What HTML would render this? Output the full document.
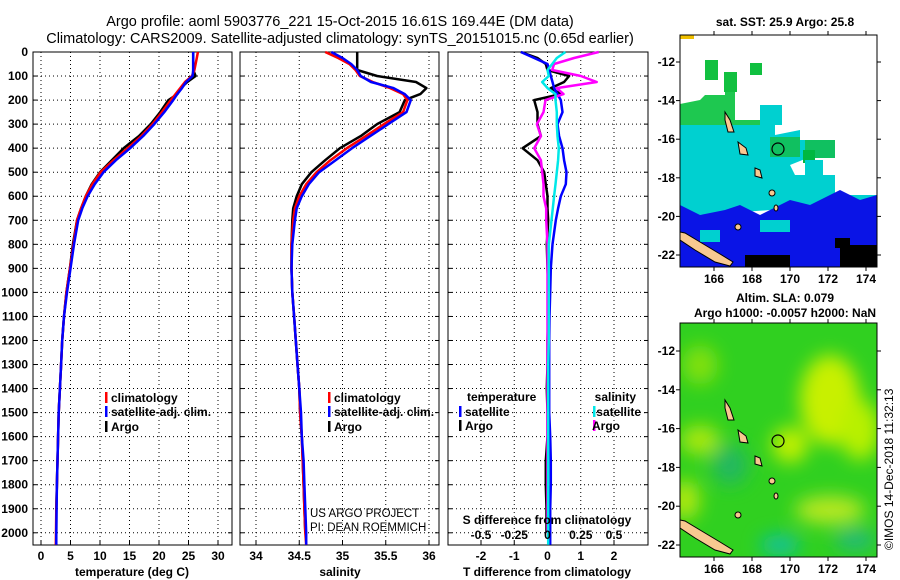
<!DOCTYPE html>
<html><head><meta charset="utf-8"><style>
html,body{margin:0;padding:0;background:#fff;}
svg{display:block;font-family:"Liberation Sans",sans-serif;}
.tk{font-size:12px;font-weight:bold;}
.lg{font-size:12px;font-weight:bold;}
</style></head><body>
<svg id="fig" width="900" height="580" viewBox="0 0 900 580">
<text x="340" y="26" text-anchor="middle" font-size="14.5">Argo profile: aoml 5903776_221 15-Oct-2015 16.61S 169.44E (DM data)</text>
<text x="340" y="43" text-anchor="middle" font-size="14.5">Climatology: CARS2009. Satellite-adjusted climatology: synTS_20151015.nc (0.65d earlier)</text>
<g id="panels"></g>
<g id="maps">
 <text x="785" y="26" text-anchor="middle" class="tk">sat. SST: 25.9 Argo: 25.8</text>
 <text x="785" y="302" text-anchor="middle" class="tk">Altim. SLA: 0.079</text>
 <text x="785" y="317" text-anchor="middle" class="tk">Argo h1000: -0.0057 h2000: NaN</text>
 <defs>
  <clipPath id="c1"><rect x="680" y="35" width="197" height="232"/></clipPath>
  <clipPath id="c2"><rect x="680" y="323" width="197" height="234"/></clipPath>
  <filter id="bl" x="-50%" y="-50%" width="200%" height="200%"><feGaussianBlur stdDeviation="9"/></filter>
 </defs>
 <g clip-path="url(#c1)">
  <rect x="680" y="35" width="197" height="232" fill="#fff"/>
  <polygon points="680,104 700,100 705,95 725,95 725,85 735,85 735,120 760,120 760,110 770,110 775,135 680,135" fill="#1ec850"/>
  <rect x="705" y="60" width="13" height="20" fill="#12c040"/>
  <rect x="750" y="63" width="12" height="12" fill="#10c040"/>
  <rect x="724" y="72" width="13" height="20" fill="#12c040"/>
  <polygon points="680,125 775,125 775,135 800,130 800,140 815,140 815,155 790,165 795,175 835,175 835,195 877,195 877,215 860,215 860,210 770,210 700,215 680,215" fill="#00d0d0"/>
  <rect x="760" y="105" width="22" height="20" fill="#00d0d0"/>
  <rect x="770" y="137" width="30" height="20" fill="#10c060"/>
  <rect x="805" y="140" width="30" height="18" fill="#10c060"/>
  <rect x="803" y="150" width="12" height="13" fill="#00b840"/>
  <rect x="805" y="160" width="18" height="15" fill="#00d0d0"/>
  <polygon points="680,205 700,215 725,210 740,205 760,215 790,200 810,205 840,190 860,200 877,195 877,267 680,267" fill="#0a14e6"/>
  <rect x="700" y="230" width="20" height="12" fill="#00d0d0"/>
  <rect x="760" y="220" width="30" height="12" fill="#00d0d0"/>
  <rect x="840" y="245" width="37" height="22" fill="#000"/>
  <rect x="835" y="238" width="15" height="10" fill="#000"/>
  <rect x="745" y="255" width="45" height="12" fill="#000"/>
  <rect x="680" y="35" width="14" height="4" fill="#f0c000"/>
  <polygon points="680,232 685,233 700,242 720,254 733,262 730,266 715,262 695,250 680,240" fill="#f8c890" stroke="#000" stroke-width="1"/>
  <polygon points="725,112 730,120 734,132 728,132 725,120" fill="#f8c890" stroke="#000" stroke-width="1"/>
  <polygon points="738,142 746,148 748,155 740,154" fill="#f8c890" stroke="#000" stroke-width="1"/>
  <polygon points="755,168 760,170 762,178 755,176" fill="#f8c890" stroke="#000" stroke-width="1"/>
  <ellipse cx="772" cy="193" rx="3" ry="3" fill="#f8c890" stroke="#000"/>
  <ellipse cx="776" cy="208" rx="2" ry="3" fill="#f8c890" stroke="#000"/>
  <ellipse cx="738" cy="227" rx="3" ry="3" fill="#f8c890" stroke="#000"/>
  <circle cx="778" cy="149" r="6" fill="none" stroke="#000" stroke-width="1.2"/>
 </g>
 <rect x="680" y="35" width="197" height="232" fill="none" stroke="#000"/>
 <g clip-path="url(#c2)">
  <rect x="680" y="323" width="197" height="234" fill="#30d020"/>
  <g filter="url(#bl)">
   <ellipse cx="830" cy="400" rx="30" ry="45" fill="#c8f000"/>
   <ellipse cx="860" cy="430" rx="20" ry="30" fill="#b8f000"/>
   <ellipse cx="700" cy="440" rx="20" ry="15" fill="#a8e810"/>
   <ellipse cx="790" cy="445" rx="18" ry="18" fill="#c0f000"/>
   <ellipse cx="830" cy="510" rx="35" ry="14" fill="#b8e820"/>
   <ellipse cx="700" cy="365" rx="18" ry="20" fill="#80e010"/>
   <ellipse cx="685" cy="500" rx="15" ry="20" fill="#b0e810"/>
   <ellipse cx="730" cy="465" rx="18" ry="20" fill="#20b860"/>
   <ellipse cx="780" cy="545" rx="20" ry="10" fill="#10c0a0"/>
   <ellipse cx="855" cy="540" rx="20" ry="10" fill="#20b880"/>
  </g>
  <polygon points="680,520 685,521 700,530 720,542 733,550 730,554 715,550 695,538 680,528" fill="#f8c890" stroke="#000" stroke-width="1"/>
  <polygon points="725,400 730,408 734,420 728,420 725,408" fill="#f8c890" stroke="#000" stroke-width="1"/>
  <polygon points="738,430 746,436 748,443 740,442" fill="#f8c890" stroke="#000" stroke-width="1"/>
  <polygon points="755,456 760,458 762,466 755,464" fill="#f8c890" stroke="#000" stroke-width="1"/>
  <ellipse cx="772" cy="481" rx="3" ry="3" fill="#f8c890" stroke="#000"/>
  <ellipse cx="776" cy="496" rx="2" ry="3" fill="#f8c890" stroke="#000"/>
  <ellipse cx="738" cy="515" rx="3" ry="3" fill="#f8c890" stroke="#000"/>
  <circle cx="778" cy="441" r="6" fill="none" stroke="#000" stroke-width="1.2"/>
 </g>
 <rect x="680" y="323" width="197" height="234" fill="none" stroke="#000"/>
 <g id="mapticks"></g>
 <text transform="translate(893,550) rotate(-90)" font-size="12">©IMOS 14-Dec-2018 11:32:13</text>
</g>
</svg>
<script>
const depths=[0,25,50,75,100,125,150,175,200,250,300,350,400,450,500,550,600,650,700,800,900,1000,1100,1200,1300,1400,1500,1600,1700,1800,1900,2000,2050];
const tempClim=[26.6,26.4,26.2,26.0,25.6,24.4,23.6,22.8,22.0,20.5,18.9,17.0,14.7,12.3,10.1,8.7,7.6,6.8,6.1,5.5,4.9,4.3,3.9,3.6,3.4,3.2,3.0,2.9,2.8,2.7,2.6,2.55,2.5];
const tempSat=[25.8,25.8,25.8,25.8,25.7,24.6,23.9,23.1,22.4,20.9,19.2,17.3,15.1,12.7,10.6,9.1,7.9,7.0,6.3,5.6,5.0,4.4,3.9,3.6,3.4,3.2,3.0,2.9,2.8,2.7,2.65,2.6,2.6];
const tempArgo=[25.8,25.8,25.8,25.8,26.2,24.8,23.7,23.1,21.6,20.2,18.6,16.6,14.0,12.0,10.0,8.6,7.6,6.8,6.1,5.4,4.9,4.3,3.9,3.6,3.4,3.2,3.0,2.9,2.8,2.7,2.6,2.6,null];
const salClim=[34.80,34.95,35.08,35.15,35.20,35.35,35.55,35.70,35.75,35.70,35.48,35.27,35.05,34.86,34.70,34.58,34.50,34.45,34.43,34.41,34.41,34.42,34.44,34.46,34.48,34.50,34.51,34.53,34.54,34.55,34.56,34.57,34.58];
const salSat=[34.87,35.0,35.1,35.17,35.21,35.33,35.59,35.72,35.79,35.74,35.53,35.32,35.11,34.92,34.73,34.61,34.53,34.47,34.45,34.42,34.41,34.42,34.44,34.46,34.48,34.50,34.52,34.53,34.55,34.56,34.57,34.58,34.58];
const salArgo=[35.17,35.17,35.17,35.17,35.4,35.85,35.97,35.90,35.72,35.66,35.40,35.21,34.97,34.80,34.64,34.53,34.47,34.43,34.42,34.41,34.41,34.42,34.44,34.46,34.48,34.50,34.51,34.53,34.54,34.55,34.56,34.57,null];
const dTempSat=[-0.8,-0.4,0,0.05,0.1,0.15,0.2,0.3,0.4,0.45,0.3,0.35,0.45,0.5,0.57,0.55,0.4,0.32,0.25,0.15,0.1,0.08,0.06,0.05,0.05,0.05,0.05,0.08,0.1,0.1,0.08,0.08,0.08];
const dTempArgo=[-0.8,-0.3,-0.05,0,0.65,0.5,0.1,0.4,-0.4,-0.3,-0.3,-0.2,-0.75,-0.3,-0.1,-0.05,0,0,0.02,-0.02,0,0.03,0.02,0,0,-0.02,0,0,-0.05,-0.05,-0.03,-0.03,null];
const dSalSat=[0.135,0.07,0.035,0,0.01,-0.04,0,0.06,0.06,0.07,0.07,0.075,0.085,0.08,0.07,0.06,0.05,0.04,0.03,0.01,0.01,0.01,0.01,0.01,0.005,0.005,0.005,0.005,0.005,0.005,0.005,0.005,0.005];
const dSalArgo=[0.385,0.2,0.05,0.035,0.25,0.37,0.07,0.12,-0.015,-0.03,-0.08,-0.05,-0.1,-0.05,-0.04,-0.03,-0.03,-0.01,-0.01,0,0,0,0,0,0,0,0,0,0,0,0,0,null];
const depthTicks=[0,100,200,300,400,500,600,700,800,900,1000,1100,1200,1300,1400,1500,1600,1700,1800,1900,2000];
const tempTicks=[0,5,10,15,20,25,30];
const salTicks=[34,34.5,35,35.5,36];
const salTickLabels=["34","34.5","35","35.5","36"];
const dTempTicks=[-2,-1,0,1,2];
const dSalTicks=[-0.5,-0.25,0,0.25,0.5];
const dSalTickLabels=["-0.5","-0.25","0","0.25","0.5"];
const lonTicks=[166,168,170,172,174];
const latTicks=[-12,-14,-16,-18,-20,-22];

const NS="http://www.w3.org/2000/svg";
const PT=52,PB=545;
const yD=d=>PT+d*0.2404;
function el(tag,attrs,parent,txt){const e=document.createElementNS(NS,tag);for(const k in attrs)e.setAttribute(k,attrs[k]);if(txt!==undefined)e.textContent=txt;parent.appendChild(e);return e;}
function lin(d0,d1,r0,r1){return v=>r0+(v-d0)*(r1-r0)/(d1-d0);}
const root=document.getElementById('panels');
function line(g,xf,vals,color,w,name){
  let p="";vals.forEach((v,i)=>{if(v===null)return;p+=(p?"L":"M")+xf(v).toFixed(1)+","+yD(depths[i]).toFixed(1);});
  const e=el('path',{d:p,fill:'none',stroke:color,'stroke-width':w,'stroke-linejoin':'round'},g);
  
  
}
function panel(x0,x1,name,xf,ticks,labels,showDepth){
  const g=el('g',{},root);
  
  
  depthTicks.forEach(d=>{
    if(d>0){const gl=el('line',{x1:x0,x2:x1,y1:yD(d),y2:yD(d),stroke:'#000','stroke-dasharray':'1,3'},g);
    
    }
    el('line',{x1:x0,x2:x0+4,y1:yD(d),y2:yD(d),stroke:'#000'},g);
    el('line',{x1:x1-4,x2:x1,y1:yD(d),y2:yD(d),stroke:'#000'},g);
    if(showDepth){const t=el('text',{x:28,y:yD(d)+4,'text-anchor':'end',class:'tk'},g,String(d));
    
    }
  });
  ticks.forEach((v,i)=>{
    const x=xf(v);
    const gl=el('line',{x1:x,x2:x,y1:PT,y2:PB,stroke:'#000','stroke-dasharray':'1,3'},g);
    
    
    el('line',{x1:x,x2:x,y1:PB-4,y2:PB,stroke:'#000'},g);
    const t=el('text',{x:x,y:560,'text-anchor':'middle',class:'tk'},g,labels[i]);
    
    
  });
  const fr=el('rect',{x:x0,y:PT,width:x1-x0,height:PB-PT,fill:'none',stroke:'#000'},g);
  
  
  return g;
}
function legendEntry(g,x,y,color,label,name,anchor){
  const b=el('rect',{x:anchor==='end'?x+3:x,y:y-10,width:2.5,height:11,fill:color},g);
  
  
  const t=el('text',{x:anchor==='end'?x:x+6,y:y,class:'lg','text-anchor':anchor||'start'},g,label);
  
  
}
// Panel 1: temperature
const xT=lin(0,30,41,218);
const g1=panel(33,232,'temperature-panel',xT,tempTicks,tempTicks.map(String),true);
line(g1,xT,tempArgo,'#000',2.5,'temp-argo-line');
line(g1,xT,tempClim,'#ff0000',2.5,'temp-climatology-line');
line(g1,xT,tempSat,'#0000ff',2.5,'temp-satellite-line');
legendEntry(g1,105,402,'#ff0000','climatology','legend-climatology');
legendEntry(g1,105,416,'#0000ff','satellite-adj. clim.','legend-satellite');
legendEntry(g1,105,431,'#000','Argo','legend-argo');
let t=el('text',{x:132,y:576,'text-anchor':'middle',class:'tk'},g1,'temperature (deg C)');


// Panel 2: salinity
const xS=lin(34,36,256,429);
const g2=panel(240,439,'salinity-panel',xS,salTicks,salTickLabels,false);
line(g2,xS,salArgo,'#000',2.5,'sal-argo-line');
line(g2,xS,salClim,'#ff0000',2.5,'sal-climatology-line');
line(g2,xS,salSat,'#0000ff',2.5,'sal-satellite-line');
legendEntry(g2,328,402,'#ff0000','climatology','legend-climatology-sal');
legendEntry(g2,328,416,'#0000ff','satellite-adj. clim.','legend-satellite-sal');
legendEntry(g2,328,431,'#000','Argo','legend-argo-sal');
t=el('text',{x:340,y:576,'text-anchor':'middle',class:'tk'},g2,'salinity');


t=el('text',{x:310,y:517,'font-size':'11.5'},g2,'US ARGO PROJECT');


t=el('text',{x:310,y:531,'font-size':'11.5'},g2,'PI: DEAN ROEMMICH');


// Panel 3: differences
const xDT=lin(-2,2,481,614);
const xDS=lin(-0.5,0.5,481,614);
const g3=panel(448,648,'difference-panel',xDT,dTempTicks,dTempTicks.map(String),false);
line(g3,xDT,dTempArgo,'#000',2.5,'dtemp-argo-line');
line(g3,xDT,dTempSat,'#0000ff',2.5,'dtemp-satellite-line');
line(g3,xDS,dSalArgo,'#ff00ff',2.5,'dsal-argo-line');
line(g3,xDS,dSalSat,'#00e8e8',2.5,'dsal-satellite-line');
t=el('text',{x:467,y:401,class:'lg'},g3,'temperature');


legendEntry(g3,459,416,'#0000ff','satellite','legend-dtemp-satellite');
legendEntry(g3,459,430,'#000','Argo','legend-dtemp-argo');
t=el('text',{x:636,y:401,class:'lg','text-anchor':'end'},g3,'salinity');


legendEntry(g3,593,416,'#00e8e8','','legend-dsal-satellite-bar');
t=el('text',{x:641,y:416,class:'lg','text-anchor':'end'},g3,'satellite');


legendEntry(g3,593,430,'#ff00ff','','legend-dsal-argo-bar');
t=el('text',{x:620,y:430,class:'lg','text-anchor':'end'},g3,'Argo');


t=el('text',{x:547,y:524,class:'tk','text-anchor':'middle'},g3,'S difference from climatology');


dSalTicks.forEach((v,i)=>{
  const s=el('text',{x:xDS(v),y:539,class:'tk','text-anchor':'middle'},g3,dSalTickLabels[i]);
  
  
});
t=el('text',{x:547,y:576,'text-anchor':'middle',class:'tk'},g3,'T difference from climatology');


// map ticks
const mt=document.getElementById('mapticks');
const xLon=lin(166,174,714,866);
[[35,267,lin(-12,-22,62,255)],[323,557,lin(-12,-22,351,545)]].forEach((m,mi)=>{
  lonTicks.forEach(v=>{
    el('line',{x1:xLon(v),x2:xLon(v),y1:m[1],y2:m[1]+4,stroke:'#000'},mt);
    el('line',{x1:xLon(v),x2:xLon(v),y1:m[0]-4,y2:m[0],stroke:'#000'},mt);
    const s=el('text',{x:xLon(v),y:m[1]+16,class:'tk','text-anchor':'middle'},mt,String(v));
    
    
  });
  latTicks.forEach(v=>{
    el('line',{x1:676,x2:680,y1:m[2](v),y2:m[2](v),stroke:'#000'},mt);
    el('line',{x1:877,x2:881,y1:m[2](v),y2:m[2](v),stroke:'#000'},mt);
    const s=el('text',{x:675,y:m[2](v)+4,class:'tk','text-anchor':'end'},mt,String(v));
    
    
  });
});
</script>
</body></html>
